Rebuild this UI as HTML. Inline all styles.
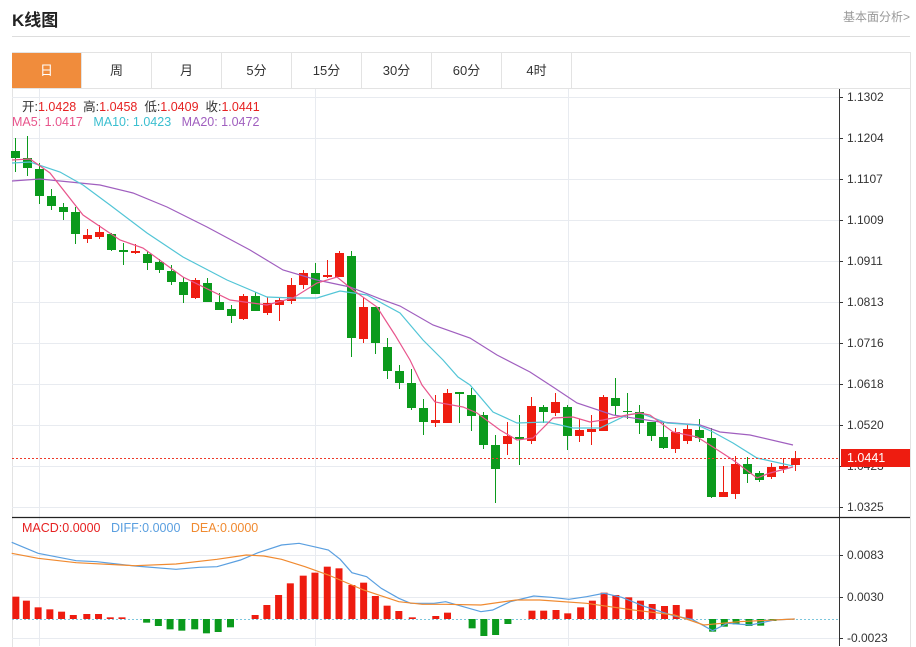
<!DOCTYPE html>
<html><head><meta charset="utf-8">
<style>
body{margin:0;width:916px;height:646px;background:#fff;overflow:hidden;font-family:"Liberation Sans","Noto Sans CJK SC",sans-serif;position:relative}
.t{position:absolute;white-space:nowrap}
.tab{position:absolute;top:53px;height:35px;width:70px;line-height:35px;text-align:center;font-size:13px;color:#333;border-right:1px solid #e3e3e3;box-sizing:border-box}
</style></head><body>
<div class="t" style="left:12px;top:6px;font-size:17px;font-weight:bold;color:#222">K线图</div>
<div class="t" style="right:6px;top:8px;font-size:12px;color:#999">基本面分析&gt;</div>
<div style="position:absolute;left:12px;top:36px;width:898px;height:1px;background:#ddd"></div>
<div style="position:absolute;left:12px;top:52px;width:897px;height:594px;border:1px solid #e3e3e3;border-bottom:none"></div>
<div style="position:absolute;left:12px;top:88px;width:898px;height:1px;background:#e3e3e3"></div>
<div class="tab" style="left:12px;background:#f08c3c;color:#fff">日</div>
<div class="tab" style="left:82px">周</div>
<div class="tab" style="left:152px">月</div>
<div class="tab" style="left:222px">5分</div>
<div class="tab" style="left:292px">15分</div>
<div class="tab" style="left:362px">30分</div>
<div class="tab" style="left:432px">60分</div>
<div class="tab" style="left:502px">4时</div>
<svg id="s" width="916" height="646" style="position:absolute;left:0;top:0"></svg>
<div class="t" style="left:22px;top:96px;font-size:12.5px;color:#333">开:<span style="color:#e62222">1.0428</span>&nbsp; 高:<span style="color:#e62222">1.0458</span>&nbsp; 低:<span style="color:#e62222">1.0409</span>&nbsp; 收:<span style="color:#e62222">1.0441</span></div>
<div class="t" style="left:12px;top:115px;font-size:12.5px"><span style="color:#e8558c">MA5: 1.0417</span>&nbsp;&nbsp; <span style="color:#3bbfd0">MA10: 1.0423</span>&nbsp;&nbsp; <span style="color:#a05fbf">MA20: 1.0472</span></div>
<div class="t" style="left:22px;top:521px;font-size:12.5px"><span style="color:#e62222">MACD:0.0000</span>&nbsp;&nbsp; <span style="color:#5a9fe0">DIFF:0.0000</span>&nbsp;&nbsp; <span style="color:#f08a30">DEA:0.0000</span></div>
<script>
var s=document.getElementById('s'),h='';
function L(x1,y1,x2,y2,c,w,d){h+='<line x1="'+x1+'" y1="'+y1+'" x2="'+x2+'" y2="'+y2+'" stroke="'+c+'" stroke-width="'+(w||1)+'"'+(d?' stroke-dasharray="'+d+'"':'')+'/>';}
function R(x,y,w,hh,c){h+='<rect x="'+x+'" y="'+y+'" width="'+w+'" height="'+Math.max(hh,1)+'" fill="'+c+'"/>';}
function T(x,y,t,c){h+='<text x="'+x+'" y="'+y+'" font-size="12" fill="'+(c||'#333')+'" font-family="Liberation Sans,sans-serif">'+t+'</text>';}
function P(pts,c,fx,fy){var d=pts.map(function(p,i){return (i?'L':'M')+(fx?fx(p[0]):p[0]).toFixed(1)+' '+(fy?fy(p[1]):p[1]).toFixed(1)}).join(' ');h+='<path d="'+d+'" fill="none" stroke="'+c+'" stroke-width="1.2"/>';}
// grid
var py=[97,138,179,220,261,302,343,384,425,466,507],pl=['1.1302','1.1204','1.1107','1.1009','1.0911','1.0813','1.0716','1.0618','1.0520','1.0423','1.0325'];
py.forEach(function(y,i){L(12,y+.5,839,y+.5,'#e8ebf0');L(839,y+.5,843,y+.5,'#333');T(847,y+4,pl[i]);});
[555,597,638].forEach(function(y,i){L(12,y+.5,839,y+.5,'#e8ebf0');L(839,y+.5,843,y+.5,'#333');T(847,y+4,['0.0083','0.0030','-0.0023'][i]);});
[39,315,568].forEach(function(x){L(x+.5,89,x+.5,646,'#e8ebf0');});
L(839.5,89,839.5,646,'#333');L(12,517.5,910,517.5,'#222',1.2);
// candles [top,bottom,wickTop,wickBot,red]
var C=[[151,158,138,172,0],[158,168,136,176,0],[169,196,163,204,0],[196,206,189,210,0],[207,212,203,220,0],[212,234,207,244,0],[235,239,229,243,1],[232,237,225,239,1],[234,250,233,251,0],[250,252,243,265,0],[251,253,244,254,1],[254,263,251,270,0],[262,270,259,273,0],[271,282,265,285,0],[282,295,277,303,0],[280,298,278,299,1],[283,302,278,302,0],[302,310,293,310,0],[309,316,305,323,0],[296,319,294,320,1],[296,311,292,311,0],[303,313,297,315,1],[300,305,297,321,1],[285,301,278,304,1],[273,285,270,289,1],[273,294,263,294,0],[275,277,260,278,1],[253,277,251,277,1],[256,338,251,357,0],[307,339,298,343,1],[307,343,307,354,0],[347,371,338,379,0],[371,383,365,389,0],[383,408,369,410,0],[408,422,399,435,0],[420,423,395,427,1],[393,423,389,423,1],[392,394,392,423,0],[395,416,388,431,0],[415,445,412,449,0],[445,469,435,503,0],[436,444,422,455,1],[437,439,415,465,0],[406,441,397,444,1],[407,412,405,423,0],[402,413,393,416,1],[407,436,405,450,0],[430,436,419,442,1],[429,432,415,445,1],[397,431,395,431,1],[398,406,378,415,0],[411,412,393,419,0],[412,423,405,434,0],[422,436,422,441,0],[437,448,423,449,0],[432,449,428,453,1],[429,441,425,444,1],[430,438,419,442,0],[438,497,428,498,0],[492,497,466,497,1],[464,494,456,499,1],[464,474,457,483,0],[473,480,471,482,0],[467,477,463,479,1],[466,469,458,473,1],[458,465,451,471,1]];
C.forEach(function(c,i){var x=15+12*i,col=c[4]?'#ee1c10':'#0b9a1c';L(x+.5,c[2],x+.5,c[3],col);R(x-4,c[0],9,c[1]-c[0],col);});
P([[12,181],[40,179],[100,185],[133,193],[167,207],[207,227],[250,250],[283,270],[317,280],[350,287],[383,300],[400,306],[433,325],[470,338],[497,355],[530,372],[553,387],[577,403],[613,415],[660,422],[700,425],[720,432],[750,435],[793,445]],'#a05fbf');
P([[12,163],[30,162],[60,172],[83,185],[110,205],[147,233],[183,257],[227,280],[267,297],[293,298],[317,298],[340,291],[367,295],[400,313],[423,340],[443,360],[458,377],[470,385],[493,412],[517,423],[547,422],[573,428],[600,428],[627,415],[640,413],[667,423],[697,425],[713,432],[733,443],[757,458],[793,466]],'#52c5d6');
P([[12,160],[30,159],[50,173],[83,215],[120,240],[143,248],[183,277],[230,300],[267,305],[293,298],[317,283],[337,277],[353,290],[377,307],[395,335],[410,360],[422,385],[435,402],[463,407],[477,413],[500,430],[517,440],[533,438],[553,418],[573,417],[590,422],[603,420],[627,415],[640,413],[650,415],[673,432],[697,437],[713,447],[733,460],[757,478],[770,473],[793,467]],'#e8558c');
L(12,458.5,839,458.5,'#ee3a2a',1,'2,2');
R(841,449,69,18,'#ee1c10');h+='<text x="847" y="462" font-size="12.5" fill="#fff" font-family="Liberation Sans,sans-serif">1.0441</text>';
// MACD
var Z=619;L(12,Z+.5,839,Z+.5,'#7cc7dd',1,'2,2');
var B=[[27,260],[45,272],[65,292],[85,298],[105,305],[125,315],[148,312],[168,312],[188,322],[208,322],[250,338],[270,348],[290,358],[310,362],[332,358],[352,370],[372,366],[393,352],[435,315],[455,285],[475,255],[495,220],[517,197],[537,188],[558,170],[578,175],[600,225],[620,218],[640,258],[660,287],[680,303],[703,322],[743,318],[763,308],[805,355],[825,378],[845,375],[866,342],[907,302],[927,302],[948,300],[968,310],[990,292],[1010,272],[1030,248],[1050,255],[1072,262],[1092,272],[1112,282],[1133,288],[1153,285],[1175,298],[1215,365],[1235,350],[1255,343],[1277,348],[1297,347],[1318,333],[1338,330]];
B.forEach(function(b){var x=b[0]/1.705,y=510+b[1]/3;if(y<Z)R(x-3.5,y,7,Z-y,'#ee1c10');else R(x-3.5,Z,7,y-Z,'#0b9a1c');});
var fx=function(v){return v/1.705},fy=function(v){return 510+v/3};
P([[20,97],[65,130],[130,152],[165,155],[230,168],[300,178],[340,172],[370,170],[410,150],[440,128],[480,105],[510,100],[540,112],[560,120],[580,148],[600,188],[625,200],[650,235],[680,265],[700,280],[740,280],[760,275],[790,290],[820,305],[840,300],[870,275],[910,258],[940,262],[970,268],[1000,260],[1030,250],[1060,262],[1100,290],[1150,318],[1180,328],[1215,362],[1240,340],[1280,345],[1320,330],[1355,327]],'#5a9fe0',fx,fy);
P([[20,130],[65,145],[130,158],[230,167],[300,162],[370,148],[420,135],[450,138],[480,148],[520,170],[560,195],[620,240],[680,275],[720,283],[760,283],[820,285],[880,270],[920,270],[1000,280],[1040,290],[1080,300],[1150,315],[1200,345],[1260,335],[1355,327]],'#f08a30',fx,fy);
s.innerHTML=h;
</script>
</body></html>
